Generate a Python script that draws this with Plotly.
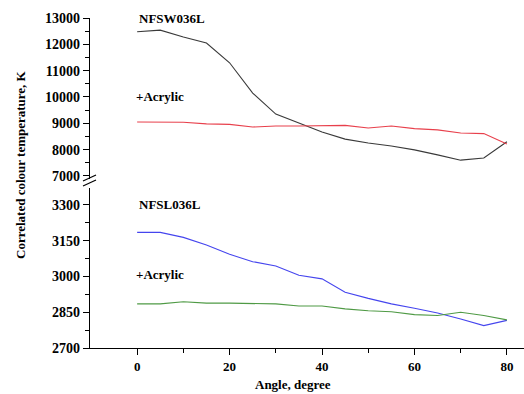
import plotly.graph_objects as go

angle = [0, 5, 10, 15, 20, 25, 30, 35, 40, 45, 50, 55, 60, 65, 70, 75, 80]
nfsw = [12480, 12540, 12280, 12050, 11300, 10150, 9350, 9010, 8670, 8400, 8250, 8140, 7990, 7800, 7600, 7680, 8300]
nfsw_acr = [9050, 9050, 9040, 8980, 8960, 8860, 8900, 8900, 8900, 8920, 8820, 8900, 8800, 8750, 8630, 8610, 8210]
nfsl = [3185, 3185, 3164, 3132, 3093, 3062, 3044, 3005, 2990, 2934, 2908, 2885, 2867, 2847, 2822, 2794, 2816]
nfsl_acr = [2885, 2885, 2894, 2888, 2888, 2888, 2885, 2876, 2876, 2864, 2856, 2852, 2840, 2836, 2850, 2836, 2818]

x_ticks = [0, 20, 40, 60, 80]
y_low_ticks = [2700, 2850, 3000, 3150, 3300]
y_high_ticks = [7000, 8000, 9000, 10000, 11000, 12000, 13000]

FONT = "Liberation Serif"
W, H = 524, 394
L, R, T, B = 90, 0, 18, 46
PH = H - T - B

def py(p):
    return (H - B - p) / PH

def px(p):
    return (p - L) / (W - L - R)

def btxt(vals):
    return ["<b>%d</b>" % v for v in vals]

fig = go.Figure()
fig.add_trace(go.Scatter(x=angle, y=nfsw, mode="lines", line=dict(color="#3a3a3a", width=1.1), xaxis="x2", yaxis="y2"))
fig.add_trace(go.Scatter(x=angle, y=nfsw_acr, mode="lines", line=dict(color="#e8404c", width=1.1), xaxis="x2", yaxis="y2"))
fig.add_trace(go.Scatter(x=angle, y=nfsl, mode="lines", line=dict(color="#4545ee", width=1.1), xaxis="x", yaxis="y"))
fig.add_trace(go.Scatter(x=angle, y=nfsl_acr, mode="lines", line=dict(color="#4f9a45", width=1.1), xaxis="x", yaxis="y"))

xtickfont = dict(family=FONT, size=13, color="black")
ytickfont = dict(family=FONT, size=14, color="black")
axcommon = dict(showgrid=False, zeroline=False, showline=True, linecolor="black", linewidth=1.3,
                ticks="outside", ticklen=6, tickwidth=1.2, tickcolor="black")

fig.update_layout(
    width=W, height=H, margin=dict(l=L, r=R, t=T, b=B),
    paper_bgcolor="white", plot_bgcolor="white", showlegend=False,
    xaxis=dict(domain=[0, 1], anchor="y", range=[-10.2, 83.7], tickvals=x_ticks, ticktext=btxt(x_ticks),
               tickfont=xtickfont,
               minor=dict(ticks="outside", ticklen=4, tickvals=[10, 30, 50, 70], tickcolor="black"), **axcommon),
    xaxis2=dict(domain=[0, 1], anchor="y2", matches="x", visible=False, range=[-10.2, 83.7]),
    yaxis=dict(domain=[0, py(188)], anchor="x", range=[2700, 3371], tickvals=y_low_ticks, ticktext=btxt(y_low_ticks),
               tickfont=ytickfont,
               minor=dict(ticks="outside", ticklen=4, tickvals=[2775, 2925, 3075, 3225], tickcolor="black"), **axcommon),
    yaxis2=dict(domain=[py(179), 1], anchor="x2", range=[6885, 13000],
                tickvals=y_high_ticks, ticktext=btxt(y_high_ticks), tickfont=ytickfont,
                minor=dict(ticks="outside", ticklen=4, tickvals=[7500, 8500, 9500, 10500, 11500, 12500], tickcolor="black"), **axcommon),
)

bold = dict(family=FONT, size=13, color="black")
ann = [
    dict(text="<b>NFSW036L</b>", x=0, y=13000, xref="x2", yref="y2", xanchor="left", yanchor="middle", showarrow=False, font=bold),
    dict(text="<b>+Acrylic</b>", x=-0.6, y=10000, xref="x2", yref="y2", xanchor="left", yanchor="middle", showarrow=False, font=bold),
    dict(text="<b>NFSL036L</b>", x=0, y=3300, xref="x", yref="y", xanchor="left", yanchor="middle", showarrow=False, font=bold),
    dict(text="<b>+Acrylic</b>", x=-0.6, y=3010, xref="x", yref="y", xanchor="left", yanchor="middle", showarrow=False, font=bold),
    dict(text="<b>Correlated colour temperature, K</b>", x=px(20), y=py(165), xref="paper", yref="paper",
         textangle=-90, xanchor="center", yanchor="middle", showarrow=False, font=bold),
    dict(text="<b>Angle, degree</b>", x=px(293), y=py(384), xref="paper", yref="paper",
         xanchor="center", yanchor="middle", showarrow=False, font=bold),
]
fig.update_layout(annotations=ann)

shapes = [
    dict(type="line", xref="paper", yref="paper", x0=px(83), y0=py(181), x1=px(96), y1=py(175), line=dict(color="black", width=1.2)),
    dict(type="line", xref="paper", yref="paper", x0=px(83), y0=py(186), x1=px(96), y1=py(180), line=dict(color="black", width=1.2)),
]
fig.update_layout(shapes=shapes)

fig.write_html("out.html")
